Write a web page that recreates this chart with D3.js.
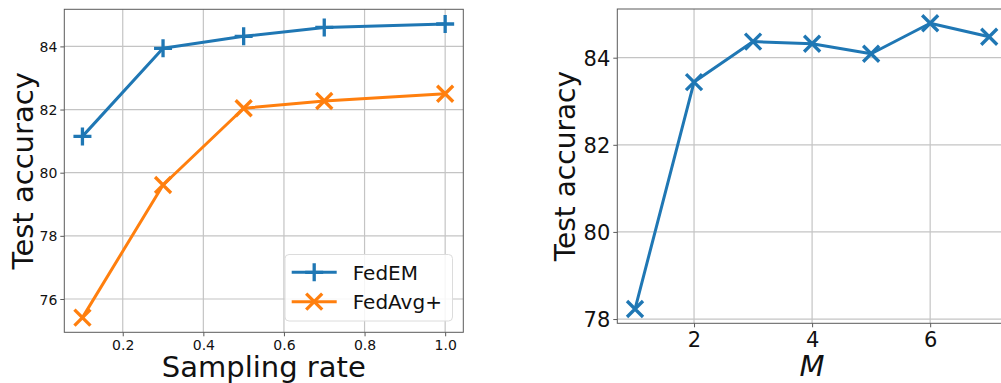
<!DOCTYPE html>
<html>
<head>
<meta charset="utf-8">
<script src="https://cdn.jsdelivr.net/npm/d3@7"></script>
<style>
  html, body { margin: 0; padding: 0; background: #fff; }
  svg { display: block; font-family: "DejaVu Sans", sans-serif; }
</style>
</head>
<body>
<svg id="chart" width="1001" height="383"></svg>
<script>
// Left panel: accuracy vs. client sampling rate
const samplingRates = [0.1, 0.3, 0.5, 0.7, 1.0];
const fedEM = [81.15, 83.94, 84.32, 84.60, 84.71];
const fedAvgPlus = [75.41, 79.61, 82.04, 82.27, 82.50];
const leftXTicks = [0.2, 0.4, 0.6, 0.8, 1.0];
const leftYTicks = [76, 78, 80, 82, 84];

// Right panel: accuracy vs. number of mixture components M
const mValues = [1, 2, 3, 4, 5, 6, 7];
const mAccuracy = [78.23, 83.44, 84.37, 84.32, 84.09, 84.79, 84.48];
const rightXTicks = [2, 4, 6];
const rightYTicks = [78, 80, 82, 84];

const BLUE = "#1f77b4", ORANGE = "#ff7f0e";
const GRID = "#c4c4c4", SPINE = "#5a5a5a";

const svg = d3.select("#chart");

// matplotlib-style autoscale: data range padded by 5% on each side
function padded(values) {
  const [lo, hi] = d3.extent(values);
  const p = (hi - lo) * 0.05;
  return [lo - p, hi + p];
}

function markerPath(kind, h) {
  if (kind === "plus") return `M${-h},0H${h}M0,${-h}V${h}`;
  return `M${-h},${-h}L${h},${h}M${-h},${h}L${h},${-h}`;
}
const markerSize = kind => (kind === "plus" ? 9 : 8);

function panel(opts) {
  const { box, xDom, yDom, xTicks, yTicks, xFmt, tickFont, series } = opts;
  const x = d3.scaleLinear().domain(xDom).range([box.left, box.right]);
  const y = d3.scaleLinear().domain(yDom).range([box.bottom, box.top]);
  const g = svg.append("g");

  const clipId = "clip" + Math.round(box.left);
  g.append("clipPath").attr("id", clipId)
    .append("rect").attr("x", box.left).attr("y", box.top)
    .attr("width", box.right - box.left).attr("height", box.bottom - box.top);

  // grid
  const grid = g.append("g").attr("clip-path", `url(#${clipId})`);
  grid.selectAll(".gx").data(xTicks).join("line")
    .attr("x1", d => x(d)).attr("x2", d => x(d))
    .attr("y1", box.top).attr("y2", box.bottom)
    .attr("stroke", GRID).attr("stroke-width", 1.2);
  grid.selectAll(".gy").data(yTicks).join("line")
    .attr("x1", box.left).attr("x2", box.right)
    .attr("y1", d => y(d)).attr("y2", d => y(d))
    .attr("stroke", GRID).attr("stroke-width", 1.2);

  // axes via d3-axis
  const xAxis = d3.axisBottom(x).tickValues(xTicks).tickFormat(xFmt)
    .tickSizeInner(4).tickSizeOuter(0).tickPadding(3);
  const yAxis = d3.axisLeft(y).tickValues(yTicks).tickFormat(d3.format("d"))
    .tickSizeInner(4).tickSizeOuter(0).tickPadding(3);
  const gx = g.append("g").attr("transform", `translate(0,${box.bottom})`).call(xAxis);
  const gy = g.append("g").attr("transform", `translate(${box.left},0)`).call(yAxis);
  [gx, gy].forEach(a => {
    a.select(".domain").remove();
    a.selectAll(".tick line").attr("stroke", SPINE);
    a.selectAll(".tick text").attr("fill", "#111")
      .style("font-family", "DejaVu Sans").style("font-size", tickFont + "px");
  });
  gx.selectAll(".tick text").attr("dy", "0.78em");
  gy.selectAll(".tick text").attr("dy", "0.36em");

  // spines
  g.append("rect")
    .attr("x", box.left).attr("y", box.top)
    .attr("width", box.right - box.left).attr("height", box.bottom - box.top)
    .attr("fill", "none").attr("stroke", SPINE).attr("stroke-width", 1);

  // series
  series.forEach(s => {
    const pts = s.xs.map((v, i) => [x(v), y(s.ys[i])]);
    g.append("path")
      .attr("d", d3.line()(pts))
      .attr("fill", "none").attr("stroke", s.color)
      .attr("stroke-width", 3).attr("stroke-linejoin", "round");
    g.selectAll(null).data(pts).join("path")
      .attr("transform", d => `translate(${d[0]},${d[1]})`)
      .attr("d", markerPath(s.marker, markerSize(s.marker)))
      .attr("fill", "none").attr("stroke", s.color).attr("stroke-width", 3.3);
  });

  return { x, y, g };
}

// ---- Left panel ----
const leftBox = { left: 64.3, right: 463.3, top: 9.3, bottom: 332.3 };
panel({
  box: leftBox,
  xDom: padded(samplingRates),
  yDom: padded(fedEM.concat(fedAvgPlus)),
  xTicks: leftXTicks, yTicks: leftYTicks,
  xFmt: d3.format(".1f"), tickFont: 14,
  series: [
    { xs: samplingRates, ys: fedEM, color: BLUE, marker: "plus" },
    { xs: samplingRates, ys: fedAvgPlus, color: ORANGE, marker: "x" }
  ]
});

svg.append("text")
  .attr("x", (leftBox.left + leftBox.right) / 2).attr("y", 376.5)
  .attr("text-anchor", "middle").style("font-size", "29px").attr("fill", "#111")
  .text("Sampling rate");
svg.append("text")
  .attr("transform", `translate(33,${(leftBox.top + leftBox.bottom) / 2}) rotate(-90)`)
  .attr("text-anchor", "middle").style("font-size", "29px").attr("fill", "#111")
  .text("Test accuracy");

// legend
const legend = svg.append("g");
legend.append("rect")
  .attr("x", 285).attr("y", 254.5).attr("width", 167.5).attr("height", 66.5)
  .attr("rx", 4).attr("fill", "#fff").attr("fill-opacity", 0.85)
  .attr("stroke", "#dcdcdc").attr("stroke-width", 1);
const legendItems = [
  { name: "FedEM", color: BLUE, marker: "plus" },
  { name: "FedAvg+", color: ORANGE, marker: "x" }
];
legendItems.forEach((it, i) => {
  const cy = 272.3 + i * 29.4;
  legend.append("line").attr("x1", 291.7).attr("x2", 336.7)
    .attr("y1", cy).attr("y2", cy).attr("stroke", it.color).attr("stroke-width", 3);
  legend.append("path").attr("transform", `translate(314.2,${cy})`)
    .attr("d", markerPath(it.marker, markerSize(it.marker)))
    .attr("fill", "none").attr("stroke", it.color).attr("stroke-width", 3.3);
  legend.append("text").attr("x", 352.7).attr("y", cy).attr("dy", "0.36em")
    .style("font-size", "20px").attr("fill", "#111").text(it.name);
});

// ---- Right panel ----
const rightBox = { left: 617.3, right: 1006.9, top: 9, bottom: 323.3 };
panel({
  box: rightBox,
  xDom: padded(mValues),
  yDom: padded(mAccuracy),
  xTicks: rightXTicks, yTicks: rightYTicks,
  xFmt: d3.format("d"), tickFont: 21,
  series: [
    { xs: mValues, ys: mAccuracy, color: BLUE, marker: "x" }
  ]
});

svg.append("text")
  .attr("x", (rightBox.left + rightBox.right) / 2).attr("y", 376)
  .attr("text-anchor", "middle").style("font-size", "29px")
  .style("font-style", "italic").attr("fill", "#111")
  .text("M");
svg.append("text")
  .attr("transform", `translate(575,${(rightBox.top + rightBox.bottom) / 2}) rotate(-90)`)
  .attr("text-anchor", "middle").style("font-size", "28px").attr("fill", "#111")
  .text("Test accuracy");
</script>
</body>
</html>
